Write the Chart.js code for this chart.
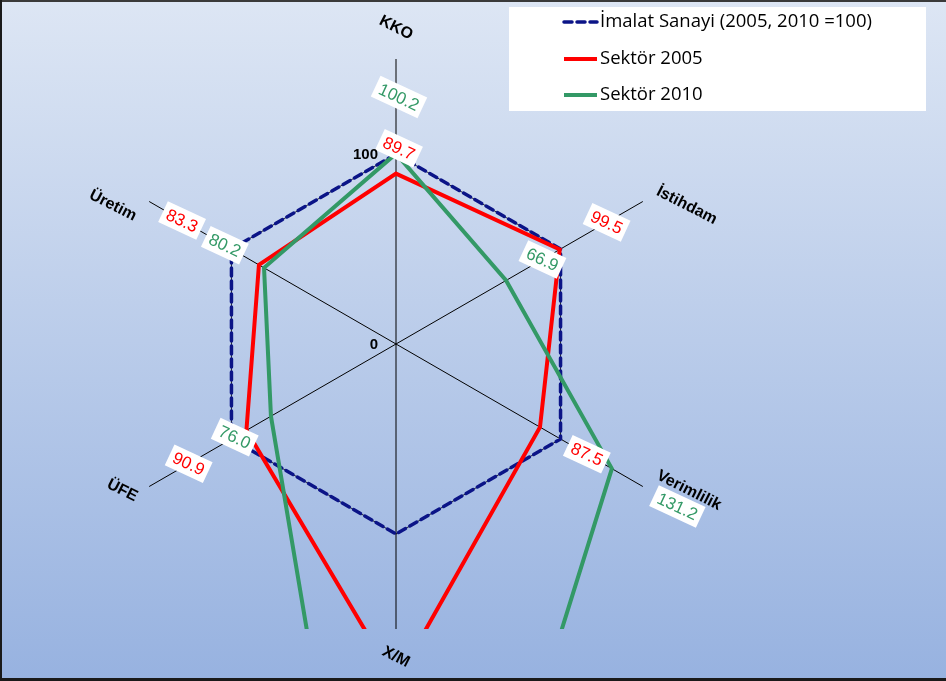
<!DOCTYPE html>
<html><head><meta charset="utf-8">
<script src="https://cdn.jsdelivr.net/npm/chart.js@4/dist/chart.umd.min.js"></script>
<style>html,body{margin:0;padding:0;background:#fff}#wrap{width:946px;height:681px;position:relative}canvas{display:block}</style>
</head><body><div id="wrap"><canvas id="c" width="946" height="681"></canvas></div>
<script>
// ---- data ----
const categories = ['KKO', 'İstihdam', 'Verimlilik', 'X/M', 'ÜFE', 'Üretim'];
const imalatSanayi = [100, 100, 100, 100, 100, 100];
const sektor2005 = [89.7, 99.5, 87.5, 178, 90.9, 83.3];
const sektor2010 = [100.2, 66.9, 131.2, 430, 76.0, 80.2];
const seriesNames = ['İmalat Sanayi (2005, 2010 =100)', 'Sektör 2005', 'Sektör 2010'];
const tickValues = [0, 100];
const tickLabels = ['0', '100'];

// ---- styles ----
const colors = { imalat: '#0b1487', s2005: '#ff0000', s2010: '#339966' };
// radial placement of data-label boxes (in scale units); null = not shown
const labelPos2005 = [103, 128, 116, null, 126, 130];
const labelPos2010 = [130, 89, 171, null, 98, 104];
const FONT = '"Liberation Sans", Arial, sans-serif';
const deg = Math.PI / 180;

const decor = {
  id: 'decor',
  beforeDraw(chart) {
    const ctx = chart.ctx, W = chart.width, H = chart.height;
    ctx.save();
    const g = ctx.createLinearGradient(0, 0, 0, H);
    g.addColorStop(0, '#dde6f4');
    g.addColorStop(1, '#97b2e0');
    ctx.fillStyle = g;
    ctx.fillRect(0, 0, W, H);
    ctx.fillStyle = '#3a3a3a';
    ctx.fillRect(0, 0, W, 2);
    ctx.fillStyle = '#1a1a1a';
    ctx.fillRect(0, 0, 2, H);
    ctx.fillRect(0, H - 3, W, 3);
    ctx.restore();
  },
  afterDraw(chart) {
    const ctx = chart.ctx;
    const sc = chart.scales.r;
    ctx.save();
    // data labels
    const drawLabels = (vals, pos, col) => {
      ctx.font = '17px ' + FONT;
      vals.forEach((v, i) => {
        if (pos[i] == null) return;
        const p = sc.getPointPositionForValue(i, pos[i]);
        const txt = v.toFixed(1);
        const w = ctx.measureText(txt).width + 9;
        const h = 23;
        ctx.save();
        ctx.translate(p.x + (i === 0 ? 3 : 0), p.y);
        ctx.rotate(25 * deg);
        ctx.fillStyle = '#fff';
        ctx.fillRect(-w / 2, -h / 2, w, h);
        ctx.fillStyle = col;
        ctx.textAlign = 'center';
        ctx.textBaseline = 'middle';
        ctx.fillText(txt, 0, 1);
        ctx.restore();
      });
    };
    drawLabels(sektor2005, labelPos2005, colors.s2005);
    drawLabels(sektor2010, labelPos2010, colors.s2010);
    // tick labels
    ctx.font = 'bold 15px ' + FONT;
    ctx.fillStyle = '#000';
    ctx.textAlign = 'right';
    ctx.textBaseline = 'middle';
    tickValues.forEach((v, k) => {
      const p = sc.getPointPositionForValue(0, v);
      ctx.fillText(tickLabels[k], sc.xCenter - 18, p.y + 1);
    });
    // axis (category) labels, rotated, placed just outside the axis ends
    ctx.font = 'bold 16px ' + FONT;
    ctx.textAlign = 'center';
    categories.forEach((c, i) => {
      const p = sc.getPointPosition(i, sc.drawingArea);
      const dx = p.x - sc.xCenter;
      const w = ctx.measureText(c).width;
      let x = p.x, y = p.y;
      if (Math.abs(dx) < 1) {
        y += (p.y < sc.yCenter) ? -31 : 28;
      } else {
        x += Math.sign(dx) * (0.5 * w + 11);
        y += 4;
      }
      ctx.save();
      ctx.translate(x, y);
      ctx.rotate(27 * deg);
      ctx.fillText(c, 0, 0);
      ctx.restore();
    });
    // legend
    ctx.fillStyle = '#fff';
    ctx.fillRect(509, 7, 417, 104);
    const rows = [
      { y: 22, col: colors.imalat, dash: [8, 5], w: 3.5 },
      { y: 59, col: colors.s2005, dash: [], w: 4 },
      { y: 95, col: colors.s2010, dash: [], w: 4 }
    ];
    ctx.font = '18.5px "Open Sans", sans-serif';
    ctx.textAlign = 'left';
    ctx.textBaseline = 'middle';
    rows.forEach((r, k) => {
      ctx.beginPath();
      ctx.strokeStyle = r.col;
      ctx.lineWidth = r.w;
      ctx.lineCap = r.dash.length ? 'round' : 'butt';
      ctx.setLineDash(r.dash);
      ctx.moveTo(564, r.y);
      ctx.lineTo(597, r.y);
      ctx.stroke();
      ctx.setLineDash([]);
      ctx.fillStyle = '#000';
      ctx.fillText(seriesNames[k], 600, r.y);
    });
    ctx.restore();
  }
};

new Chart(document.getElementById('c'), {
  type: 'radar',
  data: {
    labels: categories,
    datasets: [
      { label: seriesNames[0], data: imalatSanayi, borderColor: colors.imalat, borderWidth: 3.5,
        borderDash: [8, 5], borderCapStyle: 'round', fill: false, pointRadius: 0, clip: 0, order: 3 },
      { label: seriesNames[1], data: sektor2005, borderColor: colors.s2005, borderWidth: 4,
        fill: false, pointRadius: 0, clip: 0, order: 2 },
      { label: seriesNames[2], data: sektor2010, borderColor: colors.s2010, borderWidth: 4,
        fill: false, pointRadius: 0, clip: 0, order: 1 }
    ]
  },
  options: {
    responsive: false,
    animation: false,
    devicePixelRatio: 1,
    layout: { padding: { left: 111, right: 265, top: 59, bottom: 52 } },
    elements: { line: { tension: 0, borderJoinStyle: 'miter' } },
    plugins: { legend: { display: false }, tooltip: { enabled: false } },
    scales: {
      r: {
        min: 0, max: 150,
        ticks: { display: false, stepSize: 100 },
        pointLabels: { display: false },
        angleLines: { display: true, color: '#000', lineWidth: 1 },
        grid: { display: true, lineWidth: 1,
          color: (c) => (c.tick && c.tick.value === 100) ? 'rgba(0,0,0,0.8)' : 'rgba(0,0,0,0)' }
      }
    }
  },
  plugins: [decor]
});
</script>
</body></html>
